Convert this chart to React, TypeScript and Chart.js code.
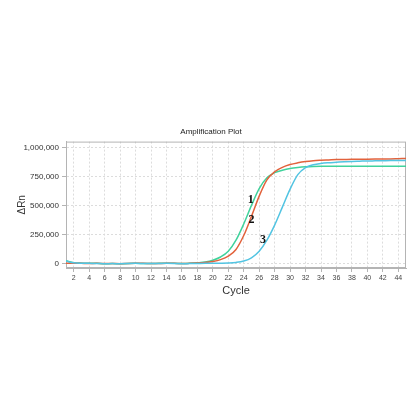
import { useEffect, useRef } from "react";
import { Chart, registerables } from "chart.js";

Chart.register(...registerables);

const cycles = [1, 2, 3, 4, 5, 6, 7, 8, 9, 10, 11, 12, 13, 14, 15, 16, 17, 18, 19, 20, 21, 22, 23, 24, 25, 26, 27, 28, 29, 30, 31, 32, 33, 34, 35, 36, 37, 38, 39, 40, 41, 42, 43, 44, 45];
const xTicks = [2, 4, 6, 8, 10, 12, 14, 16, 18, 20, 22, 24, 26, 28, 30, 32, 34, 36, 38, 40, 42, 44];
const yTicks = [0, 250000, 500000, 750000, 1000000];

const sample1 = [22000, 6000, 2000, 1000, 0, -3000, -2000, -4000, -1000, 0, -1000, -2000, 0, 1000, 0, -2000, 0, 5000, 12000, 27000, 55000, 105000, 200000, 340000, 500000, 645000, 738000, 782000, 803000, 818000, 827000, 833000, 836000, 837000, 837000, 837000, 837000, 837000, 837000, 837000, 837000, 837000, 837000, 837000, 837000];
const sample2 = [2000, 1000, 0, -1000, 0, -2000, -1000, -3000, -1000, 0, 0, -2000, -1000, 0, 0, -2000, 0, 3000, 7000, 16000, 32000, 62000, 120000, 240000, 405000, 580000, 720000, 790000, 828000, 852000, 867000, 878000, 885000, 889000, 892000, 895000, 896000, 897000, 897000, 898000, 899000, 900000, 901000, 903000, 905000];
const sample3 = [20000, 5000, 1000, 0, -1000, -3000, -2000, -3000, -1000, 0, -1000, -2000, -1000, 0, -1000, -3000, -2000, -1000, 0, 0, 1000, 3000, 8000, 20000, 48000, 105000, 200000, 330000, 485000, 640000, 765000, 825000, 850000, 862000, 868000, 872000, 876000, 879000, 881000, 883000, 884000, 885000, 886000, 886000, 887000];

const labelTexts = ["1", "2", "3"];
const labelCycles = [24.9, 25.0, 26.5];
const labelValues = [548000, 374000, 206000];

const frameAndLabels = {
  id: "frameAndLabels",
  beforeDatasetsDraw(chart: any) {
    const { ctx, chartArea } = chart;
    ctx.save();
    ctx.strokeStyle = "#b4b4b4";
    ctx.lineWidth = 1;
    ctx.strokeRect(chartArea.left + 0.5, chartArea.top + 0.5, chartArea.right - chartArea.left - 1, chartArea.bottom - chartArea.top - 1);
    ctx.restore();
  },
  afterDatasetsDraw(chart: any) {
    const { ctx } = chart;
    const xs = chart.scales.x;
    const ys = chart.scales.y;
    ctx.save();
    ctx.font = "bold 12px 'Liberation Serif', 'DejaVu Serif', serif";
    ctx.fillStyle = "#111";
    ctx.textAlign = "center";
    ctx.textBaseline = "middle";
    labelTexts.forEach((t, i) => {
      ctx.fillText(t, xs.getPixelForValue(labelCycles[i]), ys.getPixelForValue(labelValues[i]));
    });
    ctx.restore();
  },
};

export default function App() {
  const ref = useRef<HTMLCanvasElement>(null);
  useEffect(() => {
    if (!ref.current) return;
    const mk = (vals: number[]) => cycles.map((c, i) => ({ x: c, y: vals[i] }));
    const font = "'Liberation Sans', Arial, sans-serif";
    const chart = new Chart(ref.current, {
      type: "line",
      data: {
        datasets: [
          { label: "3", data: mk(sample3), borderColor: "#52c4e2", borderWidth: 1.5, pointRadius: 0, cubicInterpolationMode: "monotone" },
          { label: "2", data: mk(sample2), borderColor: "#e2623c", borderWidth: 1.5, pointRadius: 0, cubicInterpolationMode: "monotone" },
          { label: "1", data: mk(sample1), borderColor: "#40d29c", borderWidth: 1.5, pointRadius: 0, cubicInterpolationMode: "monotone" },
        ],
      },
      options: {
        animation: false,
        responsive: true,
        maintainAspectRatio: false,
        layout: { padding: { top: 127, left: 16, right: 14, bottom: 122 } },
        plugins: {
          legend: { display: false },
          tooltip: { enabled: false },
          title: {
            display: true,
            text: "Amplification Plot",
            color: "#222",
            font: { family: font, size: 8, weight: "normal" },
            padding: { top: 0, bottom: 5 },
          },
        },
        scales: {
          x: {
            type: "linear",
            min: 1,
            max: 45,
            afterBuildTicks: (s: any) => { s.ticks = xTicks.map((v) => ({ value: v })); },
            afterFit: (s: any) => { s.height = 30; },
            ticks: { color: "#444", font: { family: font, size: 7 }, padding: 2, maxRotation: 0, autoSkip: false },
            grid: { color: "#dcdcdc", tickColor: "#b4b4b4", tickLength: 4 },
            border: { color: "#b4b4b4", dash: [2, 2] },
            title: { display: true, text: "Cycle", color: "#333", font: { family: font, size: 11 }, padding: { top: 0, bottom: 0 } },
          },
          y: {
            min: -40000,
            max: 1050000,
            afterBuildTicks: (s: any) => { s.ticks = yTicks.map((v) => ({ value: v })); },
            afterFit: (s: any) => { s.width = 50; },
            ticks: {
              color: "#333",
              font: { family: font, size: 8 },
              padding: 3,
              callback: (v: any) => Number(v).toLocaleString("en-US"),
            },
            grid: { color: "#dcdcdc", tickColor: "#b4b4b4", tickLength: 4 },
            border: { color: "#b4b4b4", dash: [2, 2] },
            title: { display: true, text: "ΔRn", color: "#333", font: { family: font, size: 10 }, padding: { top: 0, bottom: 0 } },
          },
        },
      },
      plugins: [frameAndLabels],
    } as any);
    return () => chart.destroy();
  }, []);
  return (
    <div style={{ position: "fixed", left: 0, top: 0, width: 420, height: 420, background: "#fff" }}>
      <canvas ref={ref} />
    </div>
  );
}
